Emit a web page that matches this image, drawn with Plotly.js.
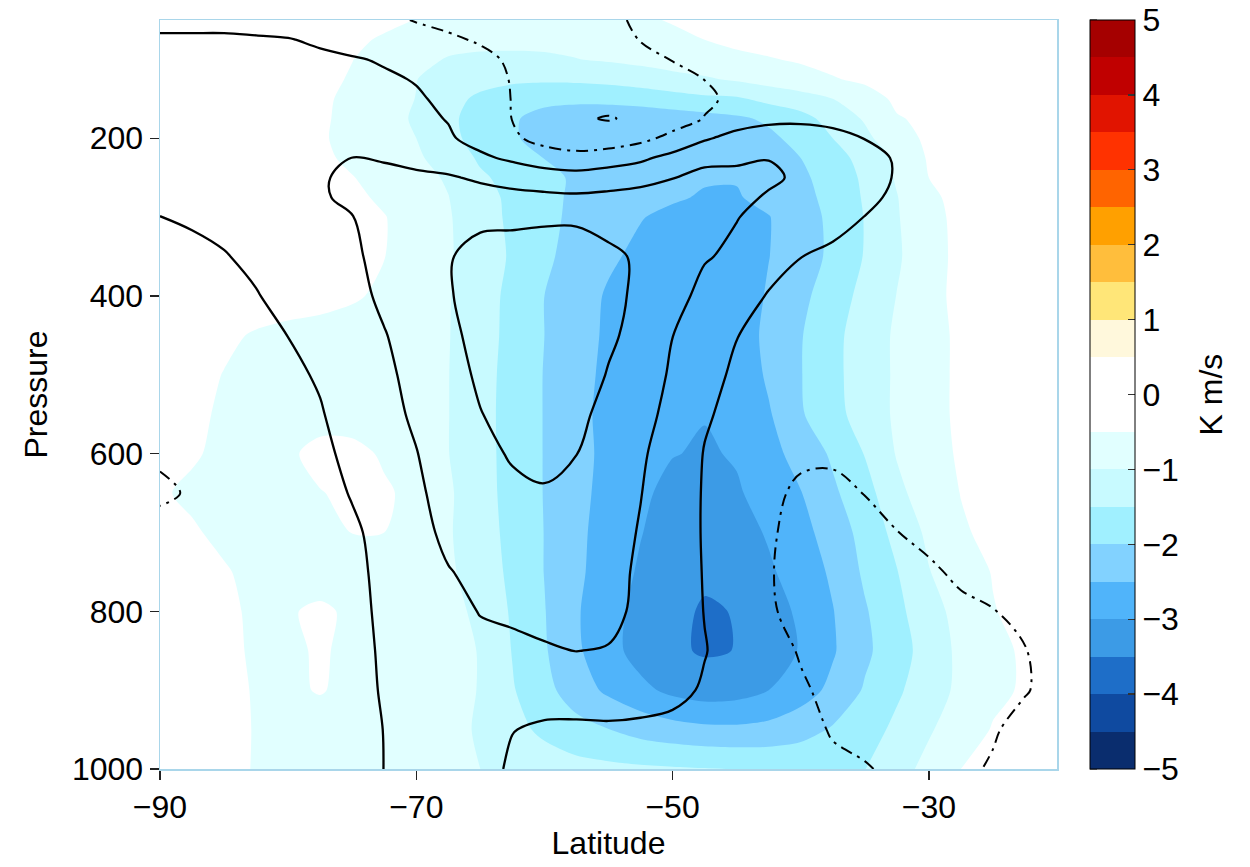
<!DOCTYPE html>
<html>
<head>
<meta charset="utf-8">
<script src="https://cdn.plot.ly/plotly-3.0.1.min.js"></script>
<style>
  html, body { margin: 0; padding: 0; background: #ffffff; }
  #chart { width: 1250px; height: 867px; }
</style>
</head>
<body>
<div id="chart"></div>
<script>
// Grid: latitude (deg) and pressure (hPa)
const latitude = [-90, -87.5, -85, -82.5, -80, -77.5, -75, -72.5, -70, -67.5, -65, -62.5, -60,
  -57.5, -55, -52.5, -50, -47.5, -45, -42.5, -40, -37.5, -35, -32.5, -30, -27.5, -25, -22.5, -20];
const pressure = [50, 75, 100, 125, 150, 175, 200, 225, 250, 275, 300, 350, 400, 450, 500,
  550, 600, 650, 700, 750, 800, 850, 900, 950, 1000];

// Eddy heat flux (K m/s), one row per pressure level
const heatFlux = [
  [-0.05,-0.05,-0.07,-0.1,-0.13,-0.2,-0.3,-0.4,-0.51,-0.65,-0.75,-0.8,-0.82,-0.8,-0.72,-0.6,-0.45,-0.38,-0.3,-0.25,-0.2,-0.18,-0.15,-0.12,-0.1,-0.08,-0.07,-0.06,-0.05],
  [-0.05,-0.06,-0.08,-0.12,-0.17,-0.27,-0.42,-0.55,-0.7,-0.85,-0.88,-0.9,-0.9,-0.88,-0.84,-0.76,-0.66,-0.5,-0.4,-0.33,-0.27,-0.22,-0.18,-0.15,-0.12,-0.1,-0.08,-0.07,-0.06],
  [-0.05,-0.06,-0.09,-0.13,-0.2,-0.3,-0.49,-0.7,-0.88,-1.03,-1.08,-1.08,-1.06,-1.01,-0.95,-0.88,-0.78,-0.68,-0.6,-0.53,-0.45,-0.37,-0.3,-0.24,-0.18,-0.14,-0.1,-0.08,-0.07],
  [-0.04,-0.06,-0.1,-0.15,-0.22,-0.35,-0.55,-0.8,-0.99,-1.2,-1.32,-1.4,-1.42,-1.4,-1.35,-1.25,-1.15,-1.06,-0.93,-0.8,-0.67,-0.53,-0.42,-0.35,-0.28,-0.22,-0.17,-0.13,-0.1],
  [-0.04,-0.06,-0.1,-0.15,-0.25,-0.4,-0.63,-0.82,-1.01,-1.33,-1.6,-1.78,-1.88,-1.9,-1.88,-1.82,-1.7,-1.6,-1.57,-1.35,-1.2,-1.0,-0.7,-0.42,-0.33,-0.26,-0.2,-0.16,-0.12],
  [-0.04,-0.06,-0.1,-0.18,-0.28,-0.42,-0.65,-0.85,-1.05,-1.4,-1.7,-1.95,-2.15,-2.25,-2.28,-2.28,-2.25,-2.18,-2.08,-1.92,-1.68,-1.3,-0.95,-0.53,-0.42,-0.3,-0.23,-0.18,-0.14],
  [-0.04,-0.08,-0.12,-0.2,-0.3,-0.45,-0.63,-0.8,-1.0,-1.35,-1.7,-1.95,-2.15,-2.25,-2.3,-2.33,-2.36,-2.38,-2.33,-2.1,-1.85,-1.5,-1.12,-0.68,-0.42,-0.32,-0.25,-0.2,-0.16],
  [-0.05,-0.08,-0.12,-0.2,-0.28,-0.4,-0.6,-0.75,-0.93,-1.2,-1.57,-1.78,-2.01,-2.2,-2.3,-2.37,-2.42,-2.45,-2.42,-2.25,-2.0,-1.7,-1.33,-0.92,-0.45,-0.33,-0.26,-0.21,-0.17],
  [-0.05,-0.08,-0.12,-0.18,-0.25,-0.33,-0.48,-0.68,-0.85,-1.05,-1.43,-1.65,-1.85,-2.08,-2.22,-2.32,-2.4,-2.46,-2.47,-2.35,-2.1,-1.78,-1.42,-0.95,-0.5,-0.35,-0.27,-0.22,-0.18],
  [-0.05,-0.08,-0.1,-0.15,-0.2,-0.28,-0.4,-0.58,-0.78,-0.99,-1.33,-1.6,-1.85,-2.1,-2.28,-2.38,-2.45,-2.54,-2.54,-2.35,-2.15,-1.85,-1.45,-1.02,-0.58,-0.38,-0.28,-0.22,-0.18],
  [-0.05,-0.08,-0.1,-0.13,-0.18,-0.25,-0.35,-0.48,-0.72,-0.96,-1.28,-1.6,-1.86,-2.12,-2.32,-2.48,-2.6,-2.65,-2.62,-2.52,-2.2,-1.9,-1.48,-1.04,-0.62,-0.4,-0.3,-0.24,-0.19],
  [-0.05,-0.07,-0.1,-0.12,-0.15,-0.22,-0.33,-0.49,-0.72,-0.95,-1.25,-1.56,-1.9,-2.2,-2.43,-2.6,-2.7,-2.74,-2.7,-2.51,-2.23,-1.9,-1.47,-1.07,-0.65,-0.4,-0.3,-0.24,-0.19],
  [-0.05,-0.08,-0.12,-0.16,-0.2,-0.28,-0.42,-0.62,-0.8,-0.97,-1.3,-1.62,-2.0,-2.3,-2.55,-2.72,-2.8,-2.85,-2.78,-2.45,-2.12,-1.75,-1.35,-0.99,-0.62,-0.4,-0.3,-0.24,-0.2],
  [-0.1,-0.2,-0.38,-0.56,-0.68,-0.74,-0.8,-0.85,-0.9,-0.98,-1.3,-1.64,-2.0,-2.3,-2.58,-2.78,-2.88,-2.93,-2.85,-2.35,-2.03,-1.63,-1.27,-0.93,-0.63,-0.43,-0.32,-0.25,-0.2],
  [-0.15,-0.3,-0.52,-0.65,-0.72,-0.78,-0.83,-0.87,-0.92,-0.99,-1.32,-1.67,-2.02,-2.32,-2.62,-2.8,-2.9,-2.96,-2.87,-2.42,-2.02,-1.62,-1.27,-0.93,-0.63,-0.43,-0.32,-0.25,-0.2],
  [-0.2,-0.38,-0.58,-0.68,-0.75,-0.7,-0.72,-0.78,-0.93,-0.99,-1.33,-1.68,-2.02,-2.35,-2.65,-2.83,-2.93,-2.98,-2.9,-2.55,-2.05,-1.65,-1.3,-0.92,-0.63,-0.43,-0.32,-0.25,-0.2],
  [-0.25,-0.45,-0.6,-0.63,-0.58,-0.35,-0.36,-0.56,-0.8,-0.99,-1.33,-1.67,-2.02,-2.35,-2.62,-2.82,-2.98,-3.05,-2.96,-2.68,-2.3,-1.93,-1.48,-0.97,-0.66,-0.45,-0.34,-0.26,-0.21],
  [-0.45,-0.58,-0.66,-0.72,-0.68,-0.52,-0.4,-0.44,-0.62,-0.93,-1.32,-1.66,-2.02,-2.35,-2.67,-2.9,-3.15,-3.25,-3.05,-2.82,-2.52,-2.08,-1.7,-1.12,-0.75,-0.49,-0.38,-0.29,-0.23],
  [-0.3,-0.45,-0.6,-0.68,-0.7,-0.65,-0.49,-0.5,-0.72,-0.95,-1.3,-1.63,-2.01,-2.38,-2.72,-2.98,-3.22,-3.35,-3.2,-2.95,-2.66,-2.28,-1.83,-1.35,-0.9,-0.55,-0.4,-0.3,-0.24],
  [-0.2,-0.3,-0.46,-0.62,-0.72,-0.78,-0.8,-0.82,-0.87,-0.93,-1.2,-1.62,-2.01,-2.4,-2.75,-3.06,-3.3,-3.42,-3.3,-3.07,-2.78,-2.42,-1.92,-1.52,-1.02,-0.7,-0.48,-0.35,-0.27],
  [-0.15,-0.25,-0.38,-0.6,-0.55,-0.4,-0.6,-0.75,-0.83,-0.93,-1.05,-1.57,-1.98,-2.45,-2.83,-3.15,-3.38,-3.55,-3.48,-3.2,-2.92,-2.52,-2.05,-1.62,-1.2,-0.82,-0.52,-0.38,-0.29],
  [-0.12,-0.22,-0.36,-0.58,-0.6,-0.44,-0.62,-0.78,-0.86,-0.93,-1.01,-1.52,-1.95,-2.42,-2.82,-3.2,-3.42,-3.55,-3.49,-3.22,-2.97,-2.55,-2.1,-1.7,-1.3,-0.88,-0.62,-0.44,-0.32],
  [-0.12,-0.22,-0.35,-0.54,-0.58,-0.47,-0.62,-0.78,-0.86,-0.93,-1.01,-1.46,-1.85,-2.25,-2.6,-2.87,-3.12,-3.25,-3.2,-3.0,-2.72,-2.38,-1.95,-1.57,-1.25,-0.88,-0.6,-0.45,-0.33],
  [-0.12,-0.2,-0.33,-0.53,-0.65,-0.72,-0.76,-0.8,-0.85,-0.92,-1.03,-1.35,-1.6,-1.83,-1.99,-2.18,-2.3,-2.38,-2.4,-2.35,-2.2,-1.95,-1.7,-1.4,-1.05,-0.75,-0.47,-0.36,-0.28],
  [-0.1,-0.18,-0.32,-0.54,-0.64,-0.7,-0.74,-0.78,-0.83,-0.9,-1.0,-1.15,-1.25,-1.33,-1.38,-1.42,-1.45,-1.48,-1.51,-1.55,-1.57,-1.55,-1.51,-1.18,-0.86,-0.5,-0.35,-0.25,-0.2]
];

// Zonal-mean zonal wind (m/s), one row per pressure level
const zonalWind = [
  [8,8,8,7.5,7,5.5,4,2,-0.5,-2.5,-4,-5,-5.5,-4.5,-2,1.5,3,4,4.5,5,5,5,5.5,5.5,5.5,5.5,5.5,5.5,5.5],
  [11,11,11,10.7,10.3,9,7,5,3.5,1.5,-1,-3,-4,-3.5,-2,0.2,2,3,4,4.5,5,5.5,6,6,6,6,6,6,6],
  [12.5,12.5,12.5,12.3,12,11.3,10.6,9.3,7.5,5,2.5,-1.5,-4,-5,-4.5,-2.5,0.3,2,3.5,4.5,5,5.5,6,6.5,6.5,6.5,6.5,6.5,6.5],
  [13.5,13.5,13.5,13.3,13,12.5,11.8,11,9.6,7,3.5,-0.5,-4,-5.5,-5.8,-4.5,-2.5,0.1,2.5,4,5,6,6.5,7,7,7,7,7,7],
  [14.5,14.5,14.5,14.3,14,13.6,13,12.2,10.8,8.5,5,-0.3,-4.5,-6.5,-7,-6,-4,-1.5,2,4.5,5.5,6.5,7,7.5,7.5,7.5,7.5,7.5,7.5],
  [15.5,15.5,15.6,15.5,15.2,14.7,14.2,13.4,12,9.6,5.5,-0.2,-5,-9,-10.5,-8.5,-5,0.3,6.1,8.5,9,8.5,8.2,8.3,8,8,8,8,8],
  [16.5,16.5,16.6,16.6,16.3,16,16,15,13.5,11,7,1.5,-3,-5.5,-6,-2.6,2.8,9.1,12.6,13.2,12.6,11.6,9.9,9.2,8.3,8.3,8.2,8.2,8.2],
  [16,16.2,16.5,16.7,17,17.8,20.1,19.2,17,15,11.5,8.5,4.5,3.1,5.5,8.3,12.8,16.5,19,19.8,16.5,13.5,11.5,9.6,8.5,8.5,8.5,8.5,8.5],
  [14,14.8,15.5,16.2,17.2,19.3,21.5,22.5,22,21,18.5,16,15.1,13.9,14.9,16.4,19.7,23.8,21.5,21.3,18.7,14,12,9.6,8.5,8.5,8.3,8.3,8.3],
  [12,13,14,15.3,17,19.3,21.3,23.5,24.8,25.5,24,23,21.9,21.5,22.4,23.9,24,25,22,19.2,17.5,13.5,11.5,8.8,8.2,8.2,8,8,8],
  [9.9,11,12.5,14,16.5,18.8,19.8,23.5,25.8,28,28.5,28.5,28.8,28.8,27.5,27,26.5,24.5,20.4,16.5,14.5,12,9.9,8.3,7.5,7.5,7.5,7.5,7.5],
  [7,8,9.5,12,15,17.8,18.5,22.8,26,29.5,32.3,33,33.8,33.8,31.4,29,27,21,17.5,13,10.1,8.8,7.5,6.5,6,6,6,6,6],
  [5.5,6,7,9.5,13,16.5,17.5,21.5,25,29.5,32.5,34.5,35.5,35,32,28.5,25,16,13.5,9.5,7,6,5,4.5,4.5,4.5,4.5,4.5,4.5],
  [4.5,5,5.5,7.5,10.1,15,16.5,19.6,23.5,28.5,32,34,35.5,34.5,31,28,20.1,15,10.2,7.5,4,3.5,3,3,3.2,3.2,3.2,3.2,3.5],
  [3.5,4,4.5,6,8,11,15.5,18.3,22.5,27.5,31,33,34.5,33.5,29.6,26,18.5,13,8.5,5.5,2.5,2,2,2,2.4,2.5,2.5,2.8,3],
  [2.5,3,3.5,5,6.5,9.3,14.3,17,21.5,26.5,29.8,32,33.5,32,27.5,24,16.5,11,7.5,3,1.5,1.2,1.3,1.5,1.8,2,2.2,2.5,3],
  [1,2,2.8,4.2,5.5,7.5,12.8,15.8,19.7,25,28,30.7,31.8,30.1,25.5,21,16.5,9.6,7.5,1.5,0.8,0.8,0.8,1,1.4,1.6,1.8,2.2,2.8],
  [-1.2,0.7,2,3.8,5,6.5,10.6,14.5,18,24.4,26.5,28.5,29.4,28,23.5,20.2,16,9.2,8,1,-0.8,-1.2,0.1,0.6,1.2,1.4,1.6,2,2.6],
  [2.5,3,3.5,4.2,5,6.3,8.5,13,16.5,22.4,24.5,26.5,26.5,26,23,19.5,15.5,9.2,7.5,0.5,-1.3,-2,-1.2,-0.05,1,1.2,1.3,1.8,2.5],
  [3.5,4,4.5,5,5.5,6.5,8,12,15,19.5,22.5,24,24.5,24.5,22.5,18.8,15,9.5,7,0.3,-1.5,-2.2,-1.8,-1,-0.6,0.7,1,1.2,2.5],
  [4,4.5,5,5.5,6,7,8,11.3,14,17.5,20.3,21.5,22.5,22.5,22.5,18,14.5,9.8,7,0.5,-1.3,-2,-2,-1.6,-1.2,-0.8,-0.1,0.8,2.2],
  [4.5,5,5.5,6,6.5,7.5,8,10.8,13.3,16,18,18,19.2,20.1,19.5,15.5,14,10.3,7,2,-0.4,-1.8,-2,-1.8,-1.5,-1,-0.6,-0.1,1],
  [5,5.5,6,6.5,7,7.5,8,10.5,12.8,15,16.5,14.5,15,15.5,15,13.5,12,9.2,6.5,3,0.6,-1.2,-1.8,-1.7,-1.5,-1,-0.6,-0.2,1],
  [5,5.5,6,6.5,7,7.5,8,10.1,12.4,14.2,15.5,10.3,8.4,8.1,8.6,8.5,8,6,5.5,3.5,2.5,-0.6,-1.2,-1.4,-1.3,-0.9,-0.3,1,1.8],
  [5,5.5,6,6.5,7,7.5,8,10.05,12.2,14,15,8,6.5,6.5,6.5,6.5,6.5,5,5,4,3,1.5,0.3,-0.8,-1,-0.6,0.3,1.5,2]
];

// Colour for each 0.5 K m/s band, from -5 up to +5
const bandColors = [
  '#0a2d6e', '#0f4aa0', '#1e6ec8', '#3c9be6', '#50b4fa',
  '#82d2ff', '#a0f0ff', '#c8faff', '#e1ffff', '#ffffff',
  '#ffffff', '#fff8dc', '#ffe678', '#ffbe3c', '#ffa000',
  '#ff6400', '#ff3200', '#e11400', '#c00000', '#a50000'
];
const fluxTicks = [-5, -4, -3, -2, -1, 0, 1, 2, 3, 4, 5];
const latitudeTicks = [-90, -70, -50, -30];
const pressureTicks = [200, 400, 600, 800, 1000];

// Stepped colour scale so every band is a flat colour
const stepScale = [];
bandColors.forEach(function (c, i) {
  stepScale.push([i / bandColors.length, c]);
  stepScale.push([(i + 1) / bandColors.length, c]);
});

const FONT = 'Liberation Sans, Arial, Helvetica, sans-serif';
const FRAME = '#a9d6ea';

// Colour bar geometry (paper units of the plot area)
const CB_X = 1.0368;
const CB_THICK = 45;
const PLOT_W = 1250 - 160 - 193;

// Invisible copy of the flux field: only carries the colour bar over -5..5
const fluxScale = {
  type: 'heatmap',
  x: latitude, y: pressure, z: heatFlux,
  zmin: -5, zmax: 5, colorscale: stepScale,
  opacity: 0, hoverinfo: 'skip',
  colorbar: {
    x: CB_X, xanchor: 'left', xpad: 0,
    y: 0.5, yanchor: 'middle', ypad: 0,
    len: 1, lenmode: 'fraction',
    thickness: CB_THICK, thicknessmode: 'pixels',
    outlinewidth: 1, outlinecolor: '#000000',
    tickvals: fluxTicks, ticks: 'inside', ticklen: 7, tickwidth: 1.2, tickcolor: '#333333',
    tickfont: { family: FONT, size: 32, color: '#000000' }
  }
};

const fluxTrace = {
  type: 'contour',
  x: latitude, y: pressure, z: heatFlux,
  colorscale: stepScale, showscale: false,
  autocontour: false,
  contours: { start: -5, end: 5, size: 0.5, coloring: 'fill', showlines: false },
  line: { width: 0, smoothing: 0.8 },
  hoverinfo: 'skip'
};

const windSolid = {
  type: 'contour',
  x: latitude, y: pressure, z: zonalWind,
  autocontour: false,
  contours: { start: 10, end: 30, size: 10, coloring: 'none' },
  line: { color: '#000000', width: 2.3, smoothing: 1 },
  showscale: false,
  hoverinfo: 'skip'
};

const windWeak = {
  type: 'contour',
  x: latitude, y: pressure, z: zonalWind,
  autocontour: false,
  contours: { start: -10, end: 0, size: 10, coloring: 'none' },
  line: { color: '#000000', width: 2, dash: '12px,6px,3px,6px', smoothing: 1 },
  showscale: false,
  hoverinfo: 'skip'
};

// Tick marks on the left edge of the colour bar
const leftTicks = fluxTicks.map(function (v) {
  return {
    type: 'line', xref: 'paper', yref: 'paper',
    x0: CB_X, x1: CB_X + 7 / PLOT_W,
    y0: (v + 5) / 10, y1: (v + 5) / 10,
    line: { color: '#333333', width: 1.2 }
  };
});

const axisCommon = {
  showgrid: false, zeroline: false,
  showline: true, linecolor: FRAME, linewidth: 1.5, mirror: true,
  ticks: 'outside', ticklen: 9, tickwidth: 1.5, tickcolor: '#222222',
  tickfont: { family: FONT, size: 32, color: '#000000' }
};

const layout = {
  width: 1250, height: 867,
  margin: { l: 160, r: 193, t: 20, b: 98 },
  paper_bgcolor: '#ffffff', plot_bgcolor: '#ffffff',
  font: { family: FONT, size: 32, color: '#000000' },
  showlegend: false,
  xaxis: Object.assign({}, axisCommon, {
    range: [-90, -20], tickvals: latitudeTicks,
    title: { text: 'Latitude', standoff: 4, font: { family: FONT, size: 32 } }
  }),
  yaxis: Object.assign({}, axisCommon, {
    range: [1000, 50], tickvals: pressureTicks,
    title: { text: 'Pressure', standoff: 14, font: { family: FONT, size: 32 } }
  }),
  shapes: leftTicks,
  annotations: [{
    text: 'K m/s', xref: 'paper', yref: 'paper',
    x: (1210 - 160) / PLOT_W, y: 0.5, xanchor: 'center', yanchor: 'middle',
    textangle: -90, showarrow: false,
    font: { family: FONT, size: 32, color: '#000000' }
  }]
};

Plotly.newPlot('chart', [fluxScale, fluxTrace, windSolid, windWeak], layout,
  { displayModeBar: false, staticPlot: true });
</script>
</body>
</html>
